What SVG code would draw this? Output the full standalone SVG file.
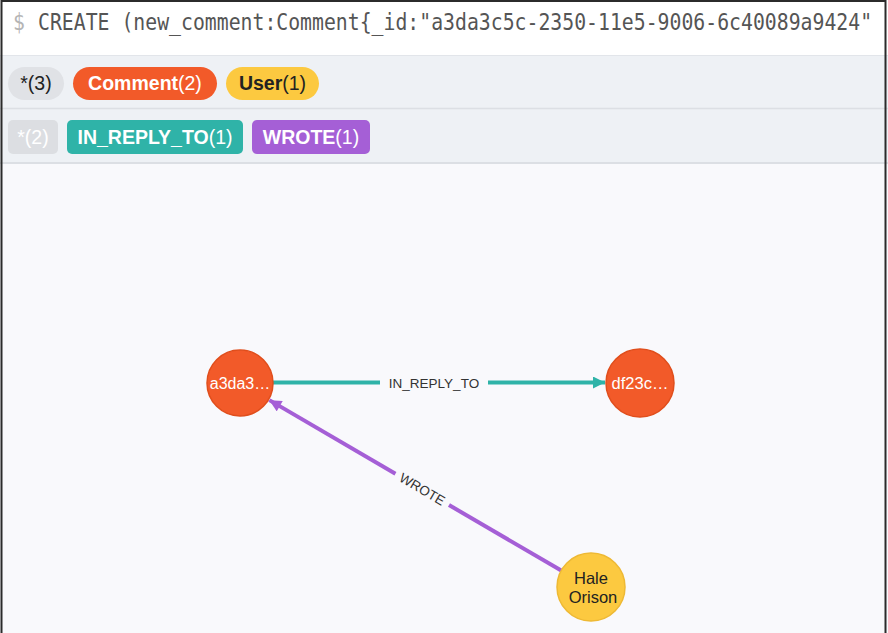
<svg xmlns="http://www.w3.org/2000/svg" width="888" height="633" viewBox="0 0 888 633">
<style>
.pill{font-family:"Liberation Sans",Arial,sans-serif;font-size:19.5px;text-anchor:middle}
.b{font-weight:bold}
.node-o{fill:#f25a29;stroke:#e04e1c;stroke-width:1.5}
.node-y{fill:#fcc940;stroke:#eeb934;stroke-width:1.5}
.nlabel{font-family:"Liberation Sans",Arial,sans-serif;text-anchor:middle}
.elabel{font-family:"Liberation Sans",Arial,sans-serif;font-size:13.5px;fill:#333;text-anchor:middle}
.cmd{font-family:"DejaVu Sans Mono","Liberation Mono",monospace;font-size:19.8px}
</style>
<defs>
<marker id="arrT" viewBox="0 0 10 10" refX="10" refY="5" markerWidth="3.2" markerHeight="3" orient="auto" markerUnits="strokeWidth">
<path d="M0,0 L10,5 L0,10 z" fill="#2fb3a8"/>
</marker>
<marker id="arrP" viewBox="0 0 10 10" refX="10" refY="5" markerWidth="3.2" markerHeight="3" orient="auto" markerUnits="strokeWidth">
<path d="M0,0 L10,5 L0,10 z" fill="#a55fd6"/>
</marker>
</defs>
<!-- backgrounds -->
<rect x="0" y="0" width="888" height="633" fill="#f9f9fc"/>
<rect x="0" y="0" width="888" height="55" fill="#ffffff"/>
<rect x="0" y="55" width="888" height="108" fill="#eef1f5"/>
<line x1="0" y1="55.5" x2="888" y2="55.5" stroke="#e2e5ea" stroke-width="1"/>
<line x1="0" y1="108.5" x2="888" y2="108.5" stroke="#dcdfe4" stroke-width="1.5"/>
<line x1="0" y1="163" x2="888" y2="163" stroke="#dcdfe4" stroke-width="2"/>
<rect x="1.5" y="1" width="884" height="700" fill="none" stroke="#2b2b2b" stroke-width="2"/>
<!-- command line -->
<g transform="translate(0,30) scale(1,1.2)">
<text class="cmd" x="13" y="0" fill="#b5b5b5">$</text>
<text class="cmd" x="38" y="0" fill="#555">CREATE (new_comment:Comment{_id:"a3da3c5c-2350-11e5-9006-6c40089a9424"</text>
</g>
<!-- label pills -->
<g id="pill-all-nodes">
<rect x="8" y="67" width="56" height="33" rx="16.5" fill="#e0e2e6"/>
<text class="pill" x="36" y="90" fill="#222">*(3)</text>
</g>
<g id="pill-comment">
<rect x="73" y="67" width="144" height="33" rx="16.5" fill="#f25a29"/>
<text class="pill" x="145" y="90" fill="#fff"><tspan class="b">Comment</tspan>(2)</text>
</g>
<g id="pill-user">
<rect x="226" y="67" width="93" height="33" rx="16.5" fill="#fcc940"/>
<text class="pill" x="272.5" y="90" fill="#222"><tspan class="b">User</tspan>(1)</text>
</g>
<g id="pill-all-rels">
<rect x="8" y="120" width="50" height="34" rx="5" fill="#dcdee2"/>
<text class="pill" x="33" y="144" fill="#fff">*(2)</text>
</g>
<g id="pill-in-reply-to">
<rect x="67" y="120" width="176" height="34" rx="5" fill="#2fb3a8"/>
<text class="pill" x="155" y="144" fill="#fff"><tspan class="b">IN_REPLY_TO</tspan>(1)</text>
</g>
<g id="pill-wrote">
<rect x="252" y="120" width="118" height="34" rx="5" fill="#a55fd6"/>
<text class="pill" x="311" y="144" fill="#fff"><tspan class="b">WROTE</tspan>(1)</text>
</g>
<!-- connectors -->
<g id="connectors">
<g id="edge-in-reply-to">
<line x1="273" y1="382.5" x2="380" y2="382.5" stroke="#2fb3a8" stroke-width="4"/>
<line x1="488" y1="382.5" x2="605" y2="382.5" stroke="#2fb3a8" stroke-width="4" marker-end="url(#arrT)"/>
<text class="elabel" x="434" y="387.5">IN_REPLY_TO</text>
</g>
<g id="edge-wrote" transform="translate(240,383) rotate(30.28)">
<line x1="180" y1="0" x2="34" y2="0" stroke="#a55fd6" stroke-width="4" marker-end="url(#arrP)"/>
<line x1="242" y1="0" x2="372" y2="0" stroke="#a55fd6" stroke-width="4"/>
<text class="elabel" x="211" y="4.5">WROTE</text>
</g>
</g>
<!-- nodes -->
<g id="node-a3da3">
<circle class="node-o" cx="240" cy="383" r="33"/>
<text class="nlabel" x="240" y="389" font-size="16" fill="#fff">a3da3…</text>
</g>
<g id="node-df23c">
<circle class="node-o" cx="640" cy="383" r="34"/>
<text class="nlabel" x="640" y="389" font-size="16.5" fill="#fff">df23c…</text>
</g>
<g id="node-hale">
<circle class="node-y" cx="591" cy="587" r="34"/>
<text class="nlabel" x="591" y="584" font-size="16.5" fill="#222">Hale</text>
<text class="nlabel" x="593" y="603" font-size="16.5" fill="#222">Orison</text>
</g>
</svg>
